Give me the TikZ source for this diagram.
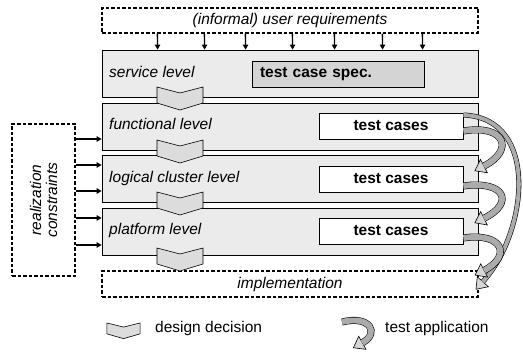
\documentclass[tikz,border=0pt]{standalone}
\usepackage{fontspec}
\setmainfont{Liberation Sans}
\usetikzlibrary{arrows.meta}

\definecolor{levelgray}{HTML}{EBEBEB}
\definecolor{specgray}{HTML}{D4D4D4}
\definecolor{chevgray}{HTML}{DCDCDC}
\definecolor{bandgray}{HTML}{ABABAB}
\definecolor{headgray}{HTML}{D6D6D6}

\newcommand{\fnt}{\fontsize{15.5}{17}\selectfont}

% one test application: black rim, gray band, light head
\newcommand{\testapp}[2][7pt]{%
	\draw[black, line width=#1, -{Triangle[length=11pt, width=16pt, line width=.6pt, fill=headgray]}] #2;
	\draw[bandgray, line width=#1-1.1pt, shorten >=10.6pt] #2;}

\tikzset{
	txt/.style={font=\fnt, inner sep=0pt, text height=11pt, text depth=3pt},
	level/.style={draw, fill=levelgray, line width=.8pt, minimum width=376pt, minimum height=47pt},
	dashbox/.style={draw, dash pattern=on 3.5pt off 2pt, line width=1.3pt, inner sep=0pt},
	testbox/.style={draw, fill=white, line width=.8pt, minimum width=144pt, minimum height=26pt, font=\fnt\bfseries},
	feed/.style={-{Triangle[length=5pt, width=5.5pt]}, line width=1.3pt},
	decision/.pic={\draw[fill=chevgray, line width=.6pt] (-23,0) -- (0,6) -- (23,0) -- (23,16) -- (0,23) -- (-23,16) -- cycle;}
}

\begin{document}
\begin{tikzpicture}[x=1pt, y=-1pt]
	\useasboundingbox (0,0) rectangle (523,352);

	% levels
	\node[level] (service)    at (290,73.5)  {};
	\node[level] (functional) at (290,126.5) {};
	\node[level] (logical)    at (290,178.5) {};
	\node[level] (platform)   at (290,231.5) {};

	\node[dashbox, minimum width=376pt, minimum height=25pt, font=\fnt\itshape] (req)  at (290,20.5) {(informal) user requirements};
	\node[dashbox, minimum width=376pt, minimum height=26pt, font=\fnt\itshape] (impl) at (290,284)  {implementation};
	\node[dashbox, minimum width=63pt, minimum height=152pt] (cons) at (43.5,200) {};
	\node[font=\fontsize{15.5}{16}\selectfont\itshape, align=center, rotate=90] (conslbl) at (cons.center) {realization\\constraints};

	% design decisions
	\pic at (180,87)  {decision};
	\pic at (180,140) {decision};
	\pic at (180,192) {decision};
	\pic at (180,248) {decision};

	\node[txt, font=\fnt\itshape, anchor=west] (servicelbl)    at (109,74)  {service level};
	\node[txt, font=\fnt\itshape, anchor=west] (functionallbl) at (109,126) {functional level};
	\node[txt, font=\fnt\itshape, anchor=west] (logicallbl)    at (109,179) {logical cluster level};
	\node[txt, font=\fnt\itshape, anchor=west] (platformlbl)   at (109,231) {platform level};

	\node[testbox, fill=specgray, minimum width=0pt, text width=156pt, inner xsep=8pt, align=left] (spec) at (338,74) {test case spec.};
	\node[testbox] (tcfun)  at (391,126) {test cases};
	\node[testbox] (tclog)  at (391,179) {test cases};
	\node[testbox] (tcplat) at (391,231) {test cases};

	\foreach \dx in {56,103,144,191,233,281,321}
		\draw[feed] ([xshift=\dx pt]req.south west) -- ([xshift=\dx pt]service.north west);

	\foreach \y/\lv in {139/functional,165/logical,191/logical,218/platform,245/platform}
		\draw[feed] (cons.east |- 0,\y) -- (\lv.west |- 0,\y);

	% test applications
	\testapp[5pt]{([yshift=11pt]tcfun.east) .. controls (540,118) and (528,232) .. ([xshift=-3pt,yshift=8pt]impl.south east)}
	\testapp{([yshift=-5pt]tcfun.east) .. controls (505,124) and (515,150) .. ([xshift=11pt,yshift=8pt]tclog.east)}
	\testapp{([yshift=-7pt]tclog.east) .. controls (505,180) and (515,203) .. ([xshift=11pt,yshift=8pt]tcplat.east)}
	\testapp{([yshift=-7pt]tcplat.east) .. controls (503,232) and (512,256) .. ([xshift=-4pt,yshift=-5pt]impl.north east)}

	% legend
	\pic[xscale=.72, yscale=.68] at (123.5,323) {decision};
	\node[txt, anchor=west] (designlbl) at (155,329) {design decision};
	\coordinate (appfrom) at (342,322);
	\coordinate (appto) at (353,348);
	\testapp{(appfrom) .. controls (370,315) and (380,333) .. (appto)}
	\node[txt, anchor=west] (applbl) at (385,329) {test application};
\end{tikzpicture}
\end{document}
